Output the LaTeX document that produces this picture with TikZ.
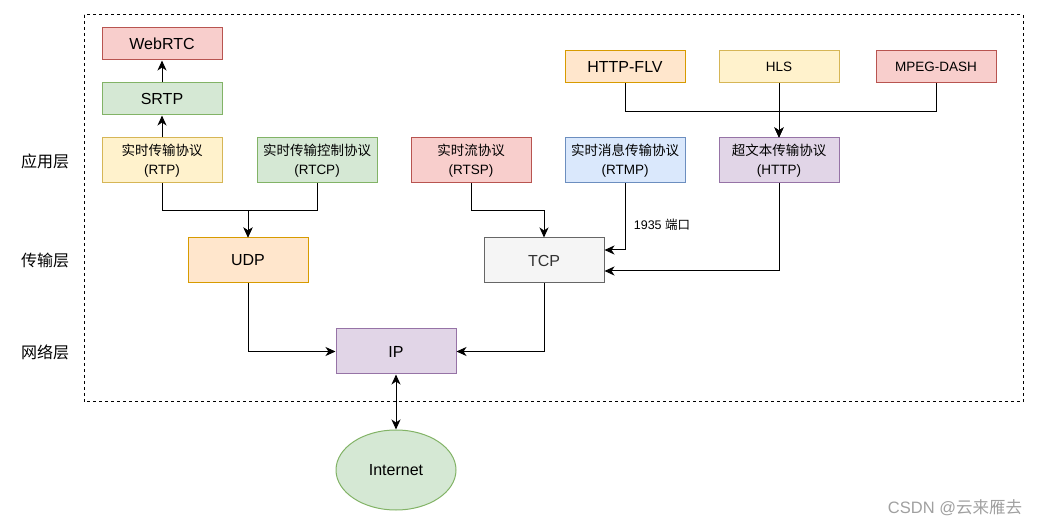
\documentclass[tikz,border=0pt]{standalone}
\usepackage{fontspec}
\setmainfont{Liberation Sans}
\newfontfamily\cjk{Noto Sans CJK SC}
\usepackage{xcolor}
\usetikzlibrary{positioning,calc,arrows.meta,shapes.geometric}

\definecolor{redfill}{HTML}{F8CECC}
\definecolor{redline}{HTML}{B85450}
\definecolor{greenfill}{HTML}{D5E8D4}
\definecolor{greenline}{HTML}{82B366}
\definecolor{yellowfill}{HTML}{FFF2CC}
\definecolor{yellowline}{HTML}{D6B656}
\definecolor{orangefill}{HTML}{FFE6CC}
\definecolor{orangeline}{HTML}{D79B00}
\definecolor{bluefill}{HTML}{DAE8FC}
\definecolor{blueline}{HTML}{6C8EBF}
\definecolor{purplefill}{HTML}{E1D5E7}
\definecolor{purpleline}{HTML}{9673A6}
\definecolor{grayfill}{HTML}{F5F5F5}
\definecolor{grayline}{HTML}{666666}
\definecolor{graytext}{HTML}{333333}
\definecolor{marktext}{HTML}{A0A0A0}

\begin{document}
\begin{tikzpicture}[x=1pt, y=-1pt,
    >={Stealth[length=10pt, width=9pt, inset=3pt]},
    proto/.style={draw, line width=1pt, minimum width=120pt, align=center, inner sep=0pt},
    tall/.style={minimum height=45pt},
    short/.style={minimum height=32pt},
    big/.style={font=\fontsize{16}{19}\selectfont},
    small/.style={font=\fontsize{13.5}{18.5}\selectfont},
    redbox/.style={proto, fill=redfill, draw=redline},
    greenbox/.style={proto, fill=greenfill, draw=greenline},
    yellowbox/.style={proto, fill=yellowfill, draw=yellowline},
    orangebox/.style={proto, fill=orangefill, draw=orangeline},
    bluebox/.style={proto, fill=bluefill, draw=blueline},
    purplebox/.style={proto, fill=purplefill, draw=purpleline},
    graybox/.style={proto, fill=grayfill, draw=grayline, text=graytext},
    layer/.style={font=\fontsize{16}{18}\selectfont\cjk},
    link/.style={line width=1pt, ->}]
    \useasboundingbox (0,0) rectangle (1039,526);

    % Boundary
    \draw[line width=1pt, dash pattern=on 3pt off 3pt] (84,15) rectangle (1023,402);

    % Layers
    \node[layer] (app) at (45,161) {应用层};
    \node[layer] (trans) at (45,260) {传输层};
    \node[layer] (net) at (45,352) {网络层};

    % Application layer
    \node[redbox, short, big] (webrtc) at (162,44) {WebRTC};
    \node[greenbox, short, big] (srtp) at (162,99) {SRTP};
    \node[yellowbox, tall, small] (rtp) at (162,160.5) {{\cjk 实时传输协议}\\(RTP)};
    \node[greenbox, tall, small] (rtcp) at (317,160.5) {{\cjk 实时传输控制协议}\\(RTCP)};
    \node[redbox, tall, small] (rtsp) at (471,160.5) {{\cjk 实时流协议}\\(RTSP)};
    \node[bluebox, tall, small] (rtmp) at (625,160.5) {{\cjk 实时消息传输协议}\\(RTMP)};
    \node[purplebox, tall, small] (http) at (779,160.5) {{\cjk 超文本传输协议}\\(HTTP)};
    \node[orangebox, short, big] (flv) at (625,67) {HTTP-FLV};
    \node[yellowbox, short, small] (hls) at (779,67) {HLS};
    \node[redbox, short, small] (dash) at (936,67) {MPEG-DASH};

    % Transport and network layer
    \node[orangebox, tall, big] (udp) at (248,260.5) {UDP};
    \node[graybox, tall, big] (tcp) at (544,260.5) {TCP};
    \node[purplebox, tall, big] (ip) at (396,351.5) {IP};
    \node[ellipse, draw=greenline, fill=greenfill, line width=1pt, minimum width=120pt,
          minimum height=80pt, inner sep=0pt, big] (inet) at (396,470) {Internet};

    % Connectors
    \draw[link] (rtp) -- (srtp);
    \draw[link] (srtp) -- (webrtc);
    \draw[link] (rtp.south) -- ++(0,27) -| (udp.north);
    \draw[link] (rtcp.south) -- ++(0,27) -| (udp.north);
    \draw[link] (rtsp.south) -- ++(0,27) -| (tcp.north);
    \draw[link] (rtmp.south) |- ($(tcp.east)+(0,-10.5)$);
    \node[font=\fontsize{12.5}{14}\selectfont] (port) at (662,225) {1935 {\cjk 端口}};
    \draw[link] (http.south) |- ($(tcp.east)+(0,10.5)$);
    \draw[link] (flv.south) -- ++(0,28) -| (http.north);
    \draw[link] (hls) -- (http);
    \draw[link] (dash.south) -- ++(0,28) -| (http.north);
    \draw[link] (udp.south) |- (ip.west);
    \draw[link] (tcp.south) |- (ip.east);
    \draw[link, <->] (ip) -- (inet);

    % Watermark
    \node[text=marktext, font=\fontsize{16.5}{19}\selectfont] (mark) at (955,508) {CSDN @{\cjk 云来雁去}};
\end{tikzpicture}
\end{document}
